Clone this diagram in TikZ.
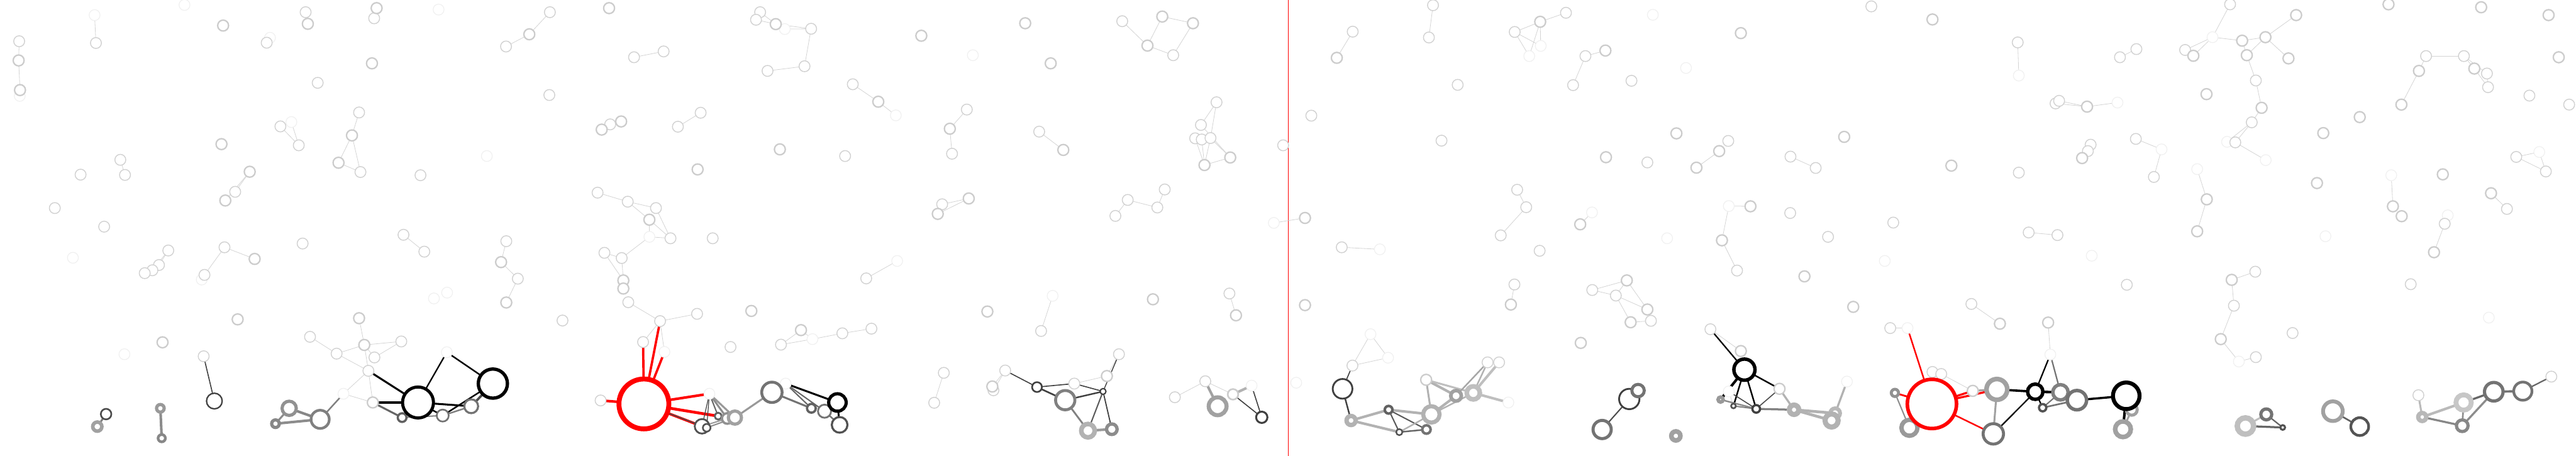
\documentclass[tikz,border=0pt]{standalone}
\usetikzlibrary{backgrounds}
\tikzset{
  vert/.style={circle, fill=white, inner sep=0pt, outer sep=0pt, minimum size=3mm},
  vfaint/.style={vert, draw=black!6, line width=0.6pt},
  vlight/.style={vert, draw=black!18, line width=0.7pt},
  vbold/.style={vert, draw=black!20, line width=1.1pt},
  vring/.style={circle, fill=white, inner sep=0pt, outer sep=0pt},
  lnk/.style={draw=black!17, line width=0.4pt}
}
\begin{document}
\begin{tikzpicture}
    \useasboundingbox (0,0) rectangle (707.2mm,-125.1mm);

    % panel 1
    \begin{scope}[shift={(0mm,0mm)}, x=0.07526mm, y=-0.07978mm]
        \foreach \n/\x/\y in {a1/673/17, a2/345/52, a3/72/330, a4/985/130, a5/1063/420,
            a6/266/887, a7/736/962, a8/454/1219, a9/1253/1355}
            \node[vfaint] (\n) at (\x,\y) {};
        \foreach \n/\x/\y in {a10/350/148, a11/70/142, a12/973/147, a13/1115/42, a14/1365/63,
            a15/1159/285, a16/1310/387, a17/1315/592, a18/1023/435, a19/1090/500,
            a20/439/550, a21/456/602, a22/294/601, a23/1534/603, a24/858/660,
            a25/380/780, a26/614/862, a27/580/912, a28/556/930, a29/528/940,
            a30/819/851, a31/746/946, a32/1104/838, a33/1472/808, a34/1548/866,
            a35/743/1226, a36/1131/1159, a37/1464/1175, a38/1228/1217, a39/1366/1230,
            a40/1344/1276, a41/200/716}
            \node[vlight] (\n) at (\x,\y) {};
        \foreach \n/\x/\y in {a50/68/208, a51/73/310, a52/814/88, a53/1123/82, a54/1374/28,
            a55/1357/218, a56/1284/466, a57/1235/560, a58/808/496, a59/911/591,
            a60/822/690, a61/929/891, a62/867/1099, a63/593/1178, a64/1310/1095,
            a65/1329/1187, a66/1360/1385}
            \node[vbold] (\n) at (\x,\y) {};
        \foreach \n/\x/\y/\col/\lw/\s in {
            a70/782/1380/black!75/1.1pt/4.3mm,
            a71/387/1425/black!70/1.3pt/2.9mm,
            a72/355/1468/black!37/2.8pt/2.5mm,
            a73/585/1405/black!40/2.5pt/2.1mm,
            a74/590/1508/black!47/2.1pt/2mm,
            a75/1055/1405/black!43/2.5pt/3.9mm,
            a76/1005/1458/black!47/2.5pt/2.1mm,
            a77/1168/1443/black!50/2.1pt/5mm,
            a79/1467/1437/black!62/1.7pt/2.4mm,
            a78/1525/1385/black/2.4pt/8.5mm}
            \node[vring, draw=\col, line width=\lw, minimum size=\s] (\n) at (\x,\y) {};
    \end{scope}

    % panel 2
    \begin{scope}[shift={(118mm,0mm)}, x=0.07526mm, y=-0.07978mm]
        \foreach \n/\x/\y in {b1/62/1212, b2/32/33, b3/1295/100, b4/208/537, b5/801/815,
            b6/15/1027, b7/63/1007, b8/856/1211, b9/1396/1167, b10/1020/1355, b11/1298/1320}
            \node[vfaint] (\n) at (\x,\y) {};
        \foreach \n/\x/\y in {b20/438/42, b21/278/160, b22/745/197, b23/853/177, b24/1205/42,
            b25/1190/68, b26/1391/99, b27/1367/228, b28/1232/244, b29/1543/290,
            b30/436/327, b31/658/428, b32/988/388, b33/905/436, b34/1515/537,
            b35/612/663, b36/722/694, b37/825/716, b38/878/820, b39/1032/820,
            b40/637/870, b41/700/888, b42/724/1040, b43/840/1105, b44/975/1080,
            b45/778/1177, b46/279/830, b47/321/959, b48/484/1103, b49/1097/1194,
            b51/1281/1186, b52/1505/1147, b53/623/1378}
            \node[vlight] (\n) at (\x,\y) {};
        \foreach \n/\x/\y in {b60/363/118, b61/654/28, b62/1262/83, b63/627/446, b64/698/418,
            b65/1277/514, b66/977/583, b67/801/756, b68/706/965, b69/706/993,
            b70/260/902, b71/279/1041, b72/1173/1070, b73/1354/1136}
            \node[vbold] (\n) at (\x,\y) {};
        \foreach \n/\x/\y/\col/\lw/\s in {
            b80/230/1320/black/2.6pt/8mm,
            b81/47/1430/black!55/1.3pt/3.3mm,
            b82/151/1398/black!55/1.6pt/3.8mm,
            b83/781/1390/red/3.8pt/13.7mm,
            b84/993/1467/black!68/1.4pt/4mm,
            b85/1010/1472/black!68/1.3pt/2.1mm,
            b86/1052/1432/black!62/1.4pt/1.9mm,
            b87/1085/1440/black!43/1.8pt/2.9mm,
            b88/1113/1437/black!37/2.5pt/3.6mm,
            b89/1248/1350/black!55/2.2pt/5.6mm,
            b90/1392/1405/black!62/1.8pt/2.4mm,
            b91/1440/1415/black!55/1.4pt/3.6mm,
            b92/1487/1385/black/2.5pt/4.8mm,
            b93/1495/1462/black!68/1.6pt/4.3mm}
            \node[vring, draw=\col, line width=\lw, minimum size=\s] (\n) at (\x,\y) {};
    \end{scope}

    % panel 3
    \begin{scope}[shift={(236mm,0mm)}, x=0.07526mm, y=-0.07978mm]
        \foreach \n/\x/\y in {c1/413/190, c2/132/397, c3/1511/767, c4/137/898, c5/704/1018,
            c6/1430/1327}
            \node[vfaint] (\n) at (\x,\y) {};
        \foreach \n/\x/\y in {c10/958/73, c11/1144/190, c12/391/377, c13/337/529, c14/655/453,
            c15/1302/352, c16/1245/430, c17/1224/476, c18/1248/480, c19/1280/475,
            c20/301/703, c21/978/688, c22/1113/652, c23/1086/714, c24/933/743,
            c25/24/958, c26/43/1131, c27/662/1139, c28/1349/1010, c29/307/1283,
            c30/272/1386, c31/531/1275, c32/488/1343, c33/946/1219, c34/783/1320,
            c35/1150/1367, c36/1261/1312, c37/1545/500}
            \node[vlight] (\n) at (\x,\y) {};
        \foreach \n/\x/\y in {c40/225/123, c41/604/80, c42/697/218, c43/1104/57, c44/1216/80,
            c45/1050/157, c46/68/350, c47/329/443, c48/743/516, c49/1352/542,
            c50/1258/568, c51/398/683, c52/285/736, c53/466/1072, c54/1070/1030,
            c55/1373/1085, c56/484/1330, c57/902/1294}
            \node[vbold] (\n) at (\x,\y) {};
        \foreach \n/\x/\y/\col/\lw/\s in {
            c60/647/1332/black!75/1.3pt/2.7mm,
            c61/750/1377/black!50/2.3pt/5.3mm,
            c62/888/1347/black!75/1pt/1.6mm,
            c63/833/1482/black!30/3.6pt/3.7mm,
            c64/920/1477/black!45/2.6pt/2.9mm,
            c65/1306/1398/black!37/3.2pt/4.9mm,
            c66/1362/1357/black!20/1.3pt/2.9mm,
            c67/1467/1436/black!75/1.5pt/3.1mm}
            \node[vring, draw=\col, line width=\lw, minimum size=\s] (\n) at (\x,\y) {};
    \end{scope}

    % panel 4
    \begin{scope}[shift={(353.6mm,0mm)}, x=0.07526mm, y=-0.07978mm]
        \foreach \n/\x/\y in {d1/880/193, d2/922/158, d3/1331/51, d4/1452/234, d5/1109/731,
            d6/1383/820, d7/335/858, d8/365/1231, d9/30/1317, d10/804/1385, d11/301/1150}
            \node[vfaint] (\n) at (\x,\y) {};
        \foreach \n/\x/\y in {d20/529/18, d21/514/129, d22/236/109, d23/827/110, d24/1014/44,
            d25/1085/193, d26/1040/293, d27/1253/278, d28/619/292, d29/85/398,
            d30/560/484, d31/1311/559, d32/836/653, d33/869/713, d34/776/810,
            d35/196/851, d36/918/863, d37/826/979, d38/1110/998, d39/1196/1017,
            d40/1324/1104, d41/1541/1133, d42/235/1258, d43/728/1247, d44/770/1247}
            \node[vlight] (\n) at (\x,\y) {};
        \foreach \n/\x/\y in {d50/178/199, d51/920/75, d52/1158/174, d53/1417/459, d54/1160/541,
            d55/1490/577, d56/62/750, d57/1066/772, d58/813/1048, d59/1236/965,
            d60/1311/1065, d61/1250/1109, d62/62/1050, d63/1068/1180, d64/504/1307}
            \node[vbold] (\n) at (\x,\y) {};
        \foreach \n/\x/\y/\col/\lw/\s in {
            d70/199/1338/black!75/1.4pt/5.4mm,
            d71/230/1447/black!30/3.4pt/2.5mm,
            d72/367/1410/black!62/2pt/2.1mm,
            d73/406/1487/black!68/1.2pt/1.7mm,
            d74/505/1478/black!55/2pt/2.3mm,
            d75/523/1426/black!30/3.2pt/4.5mm,
            d76/613/1362/black!37/2.8pt/2.9mm,
            d77/676/1352/black!25/3.6pt/3.6mm,
            d78/1245/1373/black!75/1.4pt/5.6mm,
            d79/1277/1344/black!55/2.4pt/3.4mm,
            d80/1146/1478/black!55/2.4pt/5mm,
            d81/1415/1500/black!37/3.6pt/2.5mm}
            \node[vring, draw=\col, line width=\lw, minimum size=\s] (\n) at (\x,\y) {};
    \end{scope}

    % panel 5
    \begin{scope}[shift={(471.6mm,0mm)}, x=0.07526mm, y=-0.07978mm]
        \foreach \n/\x/\y in {e1/1098/260, e2/1458/353, e3/40/709, e4/609/898, e5/1364/880,
            e6/692/1129, e7/1213/1220, e8/40/1347, e9/471/1313}
            \node[vfaint] (\n) at (\x,\y) {};
        \foreach \n/\x/\y in {e10/560/22, e11/1094/146, e12/1467/197, e13/1527/169, e14/1232/356,
            e15/1245/347, e16/38/485, e17/265/539, e18/357/578, e19/1098/594,
            e20/1360/498, e21/1350/520, e22/1525/478, e23/70/931, e24/264/733,
            e25/640/766, e26/402/815, e27/1134/800, e28/1239/809, e29/1492/980,
            e30/925/1046, e31/629/1129, e32/783/1280, e33/815/1287}
            \node[vlight] (\n) at (\x,\y) {};
        \foreach \n/\x/\y in {e40/783/67, e41/84/114, e42/1347/367, e43/461/471, e44/5/520,
            e45/852/570, e46/1329/544, e47/119/710, e48/15/827, e49/316/951,
            e50/494/1056, e51/1029/1114, e52/1205/1110, e53/84/1208, e54/225/1338,
            e55/930/1345}
            \node[vbold] (\n) at (\x,\y) {};
        \foreach \n/\x/\y/\col/\lw/\s in {
            e60/97/1272/black/2.7pt/5.8mm,
            e61/10/1375/black!40/2.7pt/1.4mm,
            e62/57/1397/black!68/1.3pt/1.3mm,
            e63/140/1407/black!75/1.7pt/2.1mm,
            e64/278/1410/black!30/4pt/2.6mm,
            e65/428/1422/black!28/3pt/2.7mm,
            e66/415/1447/black!30/4pt/3.6mm,
            e67/646/1352/black!43/2.3pt/2mm,
            e69/699/1472/black!40/3.4pt/4.4mm,
            e68/781/1390/red/2.8pt/13.5mm,
            e70/1018/1340/black!37/3.6pt/5.7mm,
            e71/1005/1493/black!55/2.3pt/5.6mm,
            e72/1158/1348/black/2.7pt/4.2mm,
            e73/1250/1350/black!50/2.7pt/4.2mm,
            e74/1310/1377/black!55/2.7pt/5.3mm,
            e75/1185/1403/black!68/1.8pt/2mm,
            e76/1510/1410/black!37/2.4pt/3mm,
            e77/1490/1362/black/3.1pt/7.3mm,
            e78/1478/1477/black!37/3.6pt/4.3mm}
            \node[vring, draw=\col, line width=\lw, minimum size=\s] (\n) at (\x,\y) {};
    \end{scope}

    % panel 6
    \begin{scope}[shift={(589.2mm,0mm)}, x=0.07526mm, y=-0.07978mm]
        \foreach \n/\x/\y in {f1/242/128, f2/295/488, f3/436/551, f4/56/514, f5/186/582,
            f6/894/603, f7/1434/523, f8/1100/741, f9/654/813, f10/1250/1093, f11/338/1244}
            \node[vfaint] (\n) at (\x,\y) {};
        \foreach \n/\x/\y in {f20/306/15, f21/142/172, f22/400/277, f23/385/421, f24/325/490,
            f25/1021/193, f26/1159/193, f27/1243/253, f28/1247/300, f29/1398/329,
            f30/1543/360, f31/28/609, f32/1350/540, f33/1458/590, f34/1316/719,
            f35/1089/770, f36/965/978, f37/398/935, f38/320/1052, f39/400/1229,
            f40/534/1146, f41/993/1360, f42/1478/1296}
            \node[vlight] (\n) at (\x,\y) {};
        \foreach \n/\x/\y in {f50/172/192, f51/350/140, f52/435/128, f53/367/190, f54/547/52,
            f55/519/201, f56/421/371, f57/884/15, f58/1222/25, f59/1468/52,
            f60/1505/197, f61/995/244, f62/931/360, f63/1197/236, f64/220/324,
            f65/779/403, f66/646/458, f67/221/686, f68/186/796, f69/623/630,
            f70/900/710, f71/932/744, f72/1082/600, f73/1258/665, f74/1050/868,
            f75/312/963, f76/272/1167}
            \node[vbold] (\n) at (\x,\y) {};
        \foreach \n/\x/\y/\col/\lw/\s in {
            f80/362/1466/black!25/4.2pt/4.5mm,
            f81/438/1426/black!55/2.5pt/3mm,
            f82/498/1471/black!68/1.5pt/1.3mm,
            f83/681/1415/black!37/3pt/5.4mm,
            f84/779/1468/black!67/2.1pt/4.9mm,
            f85/1007/1435/black!28/3.4pt/2.2mm,
            f86/1158/1385/black!22/3.8pt/4.2mm,
            f87/1153/1465/black!47/2.5pt/3.2mm,
            f88/1268/1348/black!55/2.5pt/5.1mm,
            f89/1374/1346/black!55/2.1pt/5mm}
            \node[vring, draw=\col, line width=\lw, minimum size=\s] (\n) at (\x,\y) {};
    \end{scope}

    \begin{scope}[on background layer]
        \draw[red, line width=0.5pt] (353.7mm,0) -- (353.7mm,-125.1mm);
        \foreach \na/\nb in {a2/a10, a11/a50, a50/a51, a18/a19, a5/a19, a16/a56, a56/a57,
            a56/a17, a57/a17, a20/a21, a59/a24, a59/a60, a26/a27, a26/a28, a30/a61,
            a30/a31, a33/a34, a64/a65, a36/a38, a38/a65, a65/a37, a37/a39, a65/a39,
            a38/a40, a65/a40, a40/a9, a40/a66, a9/a66,
            b20/b60, b60/b21, b22/b23, b24/b62, b25/b62, b62/b26, b3/b26, b26/b27,
            b27/b28, b32/b33, b35/b36, b36/b37, b36/b67, b37/b38, b67/b38, b67/b5,
            b5/b38, b5/b41, b40/b41, b40/b68, b41/b68, b42/b43, b43/b44, b43/b45,
            b43/b8, b46/b70, b70/b47, b47/b71, b73/b51, b51/b9, b73/b9, b9/b52,
            b29/c46, b52/c26,
            c46/c2, c12/c47, c47/c13, c14/c48, c10/c45, c45/c43, c43/c44, c44/c11,
            c11/c45, c15/c16, c15/c19, c17/c50, c18/c50, c19/c50, c19/c49, c16/c49,
            c50/c49, c51/c20, c51/c52, c24/c21, c21/c23, c23/c22, c4/c25, c5/c27,
            c28/c55, c29/c30, c31/c56, c31/c32, c34/c57, c33/c57, c35/c36, c36/c66,
            c3/d56,
            d20/d21, d22/d50, d23/d51, d51/d24, d23/d1, d23/d2, d51/d1, d51/d2,
            d25/d52, d25/d26, d55/e44, d32/d33, d33/d34, d5/d57, d35/d7, d37/d58,
            d38/d59, d38/d39, d59/d39, d59/d60, d39/d60, d39/d61, d61/d40, d11/d42,
            d11/d8, d42/d8, d41/e53,
            e17/e18, e11/e1, e12/e13, e14/e42, e15/e42, e42/e2, e22/f4, e3/e47,
            e3/e48, e48/e23, e27/e28, e30/e51, e31/e6, e52/e7, e33/e55, e8/e62,
            f4/f31, f20/f1, f1/f21, f1/f50, f1/f51, f51/f52, f51/f53, f53/f52,
            f52/f54, f52/f55, f53/f22, f22/f56, f56/f23, f23/f24, f23/f2, f24/f3,
            f25/f26, f25/f61, f61/f62, f26/f63, f26/f27, f63/f28, f27/f28, f5/f67,
            f67/f68, f6/f70, f32/f7, f32/f33, f7/f33, f73/f34, f8/f35, f35/f74,
            f37/f75, f75/f38, f38/f76, f76/f11, f11/f39}
            \draw[lnk] (\na) -- (\nb);
        \foreach \na/\nb/\col/\lw in {
            a35/a70/black!75/0.8pt, a71/a72/black!50/1.5pt, a73/a74/black!45/2pt,
            a75/a77/black!47/2pt, a75/a76/black!45/1.5pt, a76/a77/black!45/2pt,
            a77/a9/black!50/1.2pt, a40/a78/black/1.5pt, a66/a78/black/1.8pt,
            a66/a79/black!60/1.5pt, a78/b1/black/1.1pt, b1/b80/black/1.2pt,
            a78/b82/black/1.5pt, a78/b81/black/1.2pt, b81/b80/black/1.2pt,
            b81/b82/black!50/1.2pt, b82/b80/black!70/1.8pt, a79/b81/black!50/1pt,
            b45/b83/red/1.8pt, b43/b83/red/1.8pt, b8/b83/red/1.8pt, b53/b83/red/2pt,
            b83/b10/red/2pt, b83/b86/red/2.2pt, b83/b84/red/2pt, b83/b85/black!70/0.8pt,
            b10/b84/black!75/0.6pt, b10/b85/black!75/0.6pt, b10/b86/black!60/1pt,
            b10/b87/black!45/1.5pt, b10/b88/black!40/1.5pt, b84/b87/black!40/1pt,
            b85/b88/black!45/1pt, b88/b89/black!40/1.5pt, b11/b92/black/1.5pt,
            b11/b90/black!60/1pt, b11/b91/black!60/1pt, b89/b90/black!55/1.5pt,
            b92/b93/black/1.4pt, b91/b93/black!55/1.2pt,
            c31/c60/black!75/0.8pt, c60/c34/black!75/0.8pt, c60/c61/black!75/1.3pt,
            c34/c62/black!75/0.8pt, c61/c62/black!75/1.2pt, c33/c62/black!75/0.7pt,
            c61/c63/black!50/1.4pt, c62/c63/black!65/1pt, c62/c64/black!75/0.9pt,
            c63/c64/black!40/2pt, c36/c65/black!37/2pt, c66/c6/black!30/2pt,
            c66/c67/black!75/0.8pt, c6/c67/black!75/0.8pt,
            d42/d70/black!75/0.8pt, d70/d71/black!75/1.2pt, d71/d72/black!30/2pt,
            d71/d73/black!30/2pt, d72/d75/black!30/2pt, d72/d73/black!65/1pt,
            d72/d74/black!65/1pt, d73/d74/black!60/1.2pt, d73/d75/black!30/1.2pt,
            d75/d64/black!30/1.5pt, d64/d76/black!30/2pt, d64/d77/black!25/1.5pt,
            d75/d76/black!30/2pt, d75/d77/black!30/1.2pt, d76/d43/black!35/1.2pt,
            d77/d43/black!30/1.2pt, d77/d44/black!25/2pt, d77/d10/black!25/2pt,
            d78/d80/black!70/1pt,
            d41/e60/black/1.1pt, e60/e54/black/1.2pt, e60/e62/black/1.2pt,
            e60/e63/black/1.2pt, e60/e61/black/2pt, e61/e63/black!45/1.2pt,
            e62/e63/black!50/1pt, e8/e63/black!70/0.8pt, e54/e63/black!70/0.8pt,
            e54/e64/black!30/1.6pt, e63/e64/black!50/1.6pt, e64/e65/black!30/2.2pt,
            e64/e66/black!30/2.2pt, e9/e65/black!30/1.6pt,
            e6/e68/red/1.2pt, e67/e68/red/1.4pt, e68/e55/red/1.6pt, e68/e70/red/1.6pt,
            e68/e71/red/1.2pt, e67/e69/black!45/1pt, e55/e70/black!37/1.5pt,
            e70/e72/black/1.8pt, e70/e71/black!37/1.5pt, e71/e72/black/1.1pt,
            e7/e72/black/1.1pt, e7/e73/black!55/1.1pt, e72/e73/black/2pt,
            e72/e75/black/1.1pt, e75/e74/black!55/1.3pt, e75/e73/black!55/1pt,
            e74/e77/black/1.7pt, e77/e78/black/2pt, e76/e78/black!37/1.5pt,
            f80/f81/black!25/1.5pt, f81/f82/black!60/1.1pt, f80/f82/black!60/1.6pt,
            f83/f84/black!62/1.3pt, f41/f85/black!27/1.5pt, f85/f86/black!27/2pt,
            f85/f87/black!47/1.6pt, f86/f87/black!45/1.3pt, f86/f88/black!60/1.6pt,
            f87/f88/black!45/1.6pt, f88/f89/black!55/1.8pt, f89/f42/black!60/1.1pt}
            \draw[draw=\col, line width=\lw] (\na) -- (\nb);
    \end{scope}
\end{tikzpicture}
\end{document}
